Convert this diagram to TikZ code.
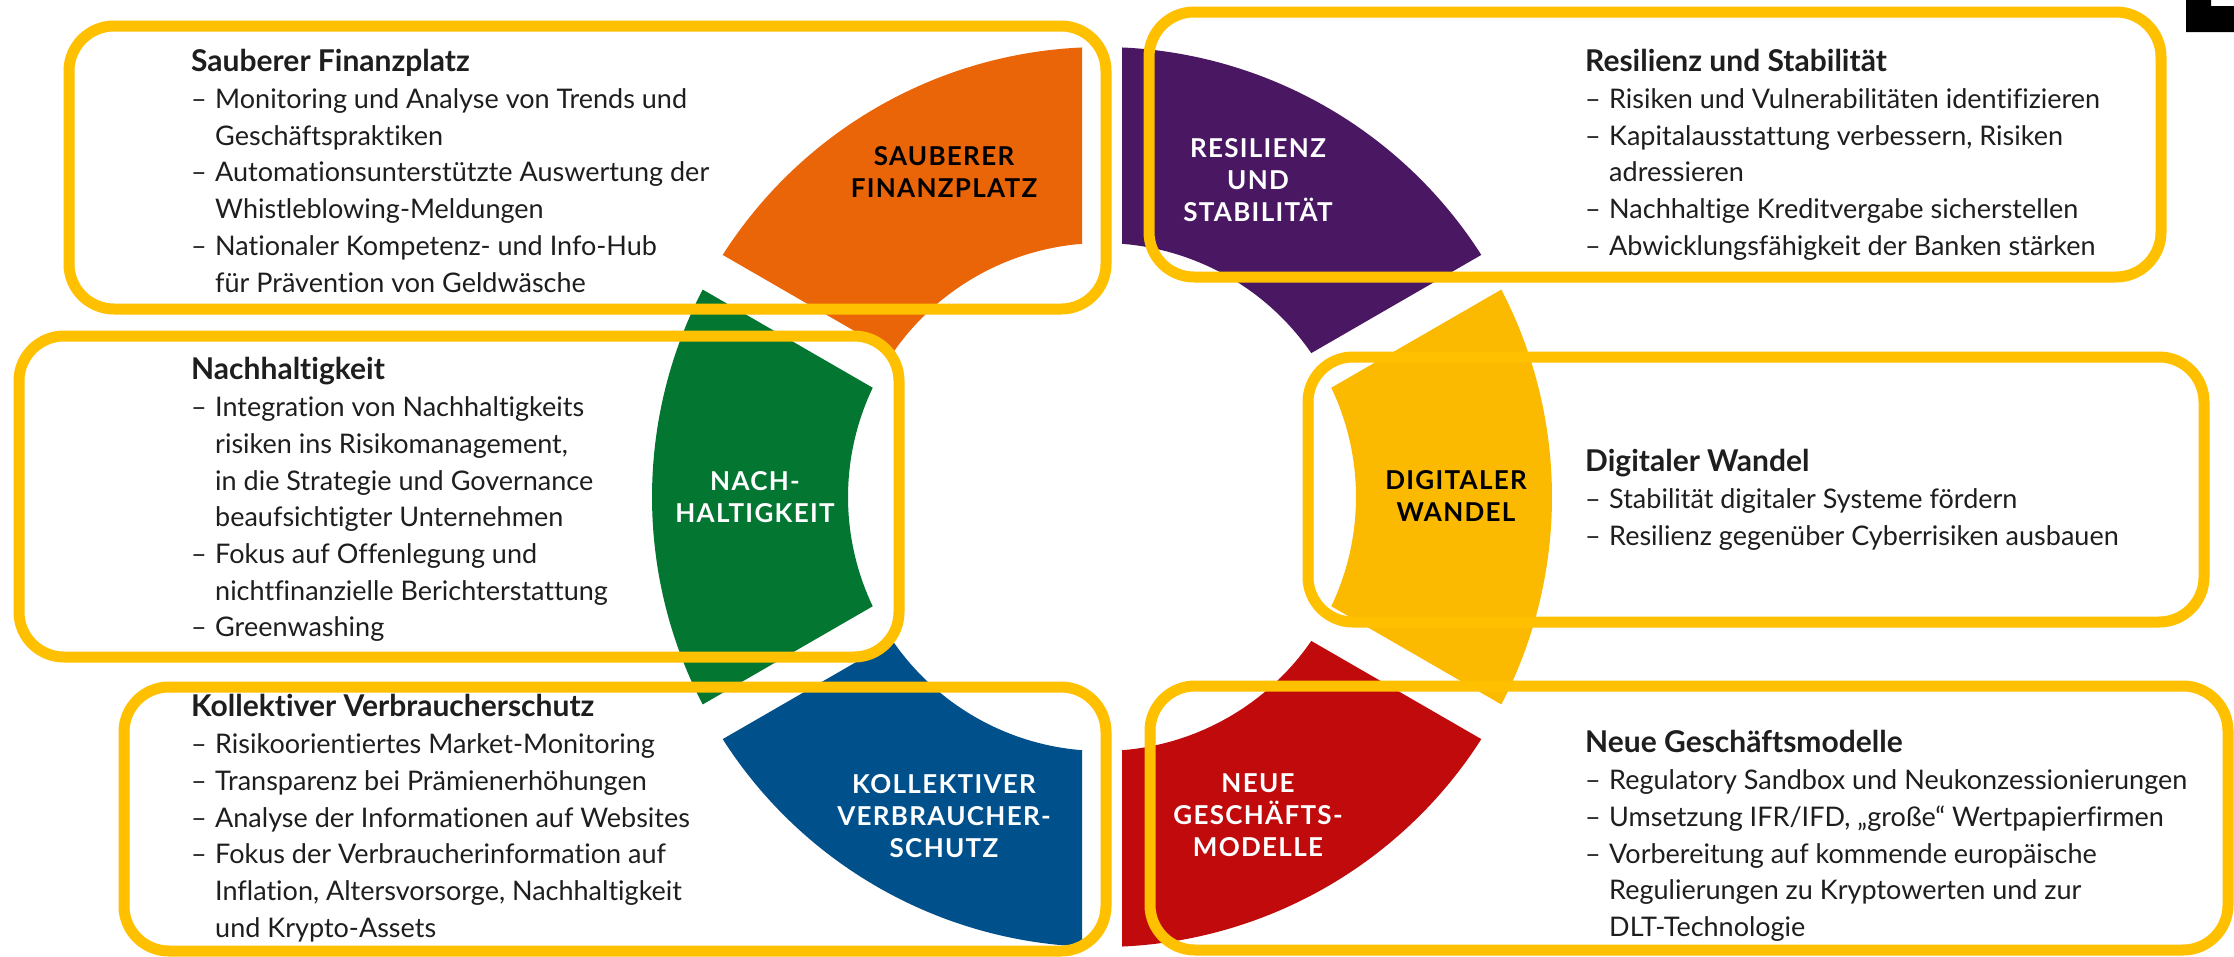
\documentclass[tikz,border=0pt]{standalone}
\usepackage{fontspec}
\setmainfont{Lato}[Ligatures=NoCommon]
\usetikzlibrary{positioning}
\definecolor{naranja}{RGB}{233,101,8}
\definecolor{morado}{RGB}{74,24,99}
\definecolor{verde}{RGB}{3,118,50}
\definecolor{amarillo}{RGB}{251,186,0}
\definecolor{azul}{RGB}{0,80,140}
\definecolor{rojo}{RGB}{192,10,12}
\definecolor{borde}{RGB}{255,192,0}
\definecolor{tinta}{RGB}{30,30,30}
\newcommand{\guion}{\makebox[24pt][l]{–}}
\newcommand{\sangria}{\hspace*{24pt}}
\newcommand{\titulo}[1]{{\fontsize{30}{36.7}\selectfont\bfseries #1}}

\begin{document}
\begin{tikzpicture}[x=1pt, y=-1pt,
            caja/.style={draw=borde, line width=11pt, rounded corners=45pt},
            texto/.style={anchor=north west, inner sep=0pt, align=left, text=tinta,
                font=\fontsize{27}{36.7}\selectfont},
            etiqueta/.style={align=center, inner sep=0pt,
                font=\fontsize{26}{32}\selectfont\bfseries\addfontfeatures{LetterSpace=5}}]

            % Fondo
            \fill[white] (0,0) rectangle (2234,956);
            \useasboundingbox (0,0) rectangle (2234,956);
            \fill[black] (2186,0) -- (2211,0) -- (2211,6) -- (2234,6) -- (2234,32) -- (2186,32) -- cycle;

            % Segmentos del anillo
            \begin{scope}[shift={(1102,497)}, yscale=-1]
                \fill[morado] (32.55:450) arc[start angle=32.55, end angle=87.45, radius=450]
                    -- (85.48:254) arc[start angle=85.48, end angle=34.52, radius=254] -- cycle;
                \fill[naranja] (92.55:450) arc[start angle=92.55, end angle=147.45, radius=450]
                    -- (145.48:254) arc[start angle=145.48, end angle=94.52, radius=254] -- cycle;
                \fill[verde] (152.55:450) arc[start angle=152.55, end angle=207.45, radius=450]
                    -- (205.48:254) arc[start angle=205.48, end angle=154.52, radius=254] -- cycle;
                \fill[azul] (212.55:450) arc[start angle=212.55, end angle=267.45, radius=450]
                    -- (265.48:254) arc[start angle=265.48, end angle=214.52, radius=254] -- cycle;
                \fill[rojo] (272.55:450) arc[start angle=272.55, end angle=327.45, radius=450]
                    -- (325.48:254) arc[start angle=325.48, end angle=274.52, radius=254] -- cycle;
                \fill[amarillo] (332.55:450) arc[start angle=332.55, end angle=387.45, radius=450]
                    -- (385.48:254) arc[start angle=385.48, end angle=334.52, radius=254] -- cycle;
            \end{scope}

            % Etiquetas de los segmentos
            \node[etiqueta, text=black] (lblSauber) at (944,172) {SAUBERER\\FINANZPLATZ};
            \node[etiqueta, text=white] (lblResilienz) at (1258,180) {RESILIENZ\\UND\\STABILITÄT};
            \node[etiqueta, text=white] (lblNachhaltig) at (755,497) {NACH-\\HALTIGKEIT};
            \node[etiqueta, text=black] (lblDigital) at (1456,496) {DIGITALER\\WANDEL};
            \node[etiqueta, text=white] (lblVerbraucher) at (944,816) {KOLLEKTIVER\\VERBRAUCHER-\\SCHUTZ};
            \node[etiqueta, text=white] (lblNeue) at (1258,815) {NEUE\\GESCHÄFTS-\\MODELLE};

            % Cajas
            \draw[caja] (69,26) rectangle (1106,309);
            \draw[caja] (1149,12) rectangle (2161,277);
            \draw[caja] (19,336) rectangle (899,657);
            \draw[caja] (1308,357) rectangle (2204,622);
            \draw[caja] (124,687) rectangle (1106,951);
            \draw[caja] (1150,686) rectangle (2228,950);

            % Textos
            \node[texto] (txtSauber) at (191,46) {\strut\titulo{Sauberer Finanzplatz}\\
                \guion Monitoring und Analyse von Trends und\\
                \sangria Geschäftspraktiken\\
                \guion Automationsunterstützte Auswertung der\\
                \sangria Whistleblowing-Meldungen\\
                \guion Nationaler Kompetenz- und Info-Hub\\
                \sangria für Prävention von Geldwäsche};
            \node[texto] (txtResilienz) at (1585,46) {\strut\titulo{Resilienz und Stabilität}\\
                \guion Risiken und Vulnerabilitäten identifizieren\\
                \guion Kapitalausstattung verbessern, Risiken\\
                \sangria adressieren\\
                \guion Nachhaltige Kreditvergabe sicherstellen\\
                \guion Abwicklungsfähigkeit der Banken stärken};
            \node[texto] (txtNachhaltig) at (191,354) {\strut\titulo{Nachhaltigkeit}\\
                \guion Integration von Nachhaltigkeits\\
                \sangria risiken ins Risikomanagement,\\
                \sangria in die Strategie und Governance\\
                \sangria beaufsichtigter Unternehmen\\
                \guion Fokus auf Offenlegung und\\
                \sangria nichtfinanzielle Berichterstattung\\
                \guion Greenwashing};
            \node[texto] (txtDigital) at (1585,446) {\strut\titulo{Digitaler Wandel}\\
                \guion Stabilität digitaler Systeme fördern\\
                \guion Resilienz gegenüber Cyberrisiken ausbauen};
            \node[texto] (txtVerbraucher) at (191,691) {\strut\titulo{Kollektiver Verbraucherschutz}\\
                \guion Risikoorientiertes Market-Monitoring\\
                \guion Transparenz bei Prämienerhöhungen\\
                \guion Analyse der Informationen auf Websites\\
                \guion Fokus der Verbraucherinformation auf\\
                \sangria Inflation, Altersvorsorge, Nachhaltigkeit\\
                \sangria und Krypto-Assets};
            \node[texto] (txtNeue) at (1585,727) {\strut\titulo{Neue Geschäftsmodelle}\\
                \guion Regulatory Sandbox und Neukonzessionierungen\\
                \guion Umsetzung IFR/IFD, „große“ Wertpapierfirmen\\
                \guion Vorbereitung auf kommende europäische\\
                \sangria Regulierungen zu Kryptowerten und zur\\
                \sangria DLT-Technologie};

        \end{tikzpicture}
\end{document}
